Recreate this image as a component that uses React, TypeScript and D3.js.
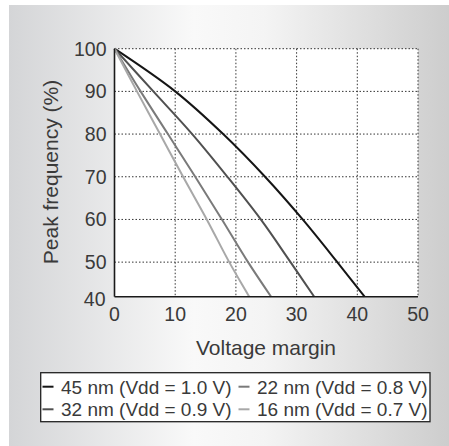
import React from "react";
import * as d3 from "d3";

const xTicks = [0, 10, 20, 30, 40, 50];
const yTicks = [100, 90, 80, 70, 60, 50];
const yBottomLabel = "40";
const xTitle = "Voltage margin";
const yTitle = "Peak frequency (%)";

const seriesNames = [
  "45 nm (Vdd = 1.0 V)",
  "32 nm (Vdd = 0.9 V)",
  "22 nm (Vdd = 0.8 V)",
  "16 nm (Vdd = 0.7 V)",
];
// [voltage margin, peak frequency]
const s45: [number, number][] = [[0, 100], [10, 90], [17.9, 80], [24.8, 70], [31.0, 60], [36.7, 50], [41.2, 41.9]];
const s32: [number, number][] = [[0, 100], [6.4, 90], [12.8, 80], [18.6, 70], [24.1, 60], [29.0, 50], [32.9, 41.9]];
const s22: [number, number][] = [[0, 100], [4.3, 90], [8.8, 80], [13.3, 70], [17.7, 60], [22.0, 50], [25.8, 41.9]];
const s16: [number, number][] = [[0, 100], [3.7, 90], [7.5, 80], [11.3, 70], [15.2, 60], [18.9, 50], [22.2, 41.9]];
const seriesData = [s45, s32, s22, s16];
const seriesColors = ["#151515", "#505050", "#7a7a7a", "#a8a8a8"];

export default function App() {
  const W = 449, H = 446;
  const x = d3.scaleLinear().domain([0, 50]).range([114.5, 418]);
  const y = d3.scaleLinear().domain([41.9, 100]).range([296.7, 48.7]);
  const line = d3
    .line<[number, number]>()
    .x((d) => x(d[0]))
    .y((d) => y(d[1]))
    .curve(d3.curveCatmullRom.alpha(0.5));
  const font = "'Liberation Sans', Arial, Helvetica, sans-serif";
  const [x0, x1] = x.range();
  const [yb, yt] = y.range();

  // legend: column 0 -> 45, 32 ; column 1 -> 22, 16
  const colX = [42.5, 238.5];
  const rowY = [386.7, 409.3];
  const textColor = "#3a3a3a";

  return (
    <svg
      width={W}
      height={H}
      style={{ position: "absolute", left: 0, top: 0 }}
      fontFamily={font}
    >
      <defs>
        <linearGradient id="bg" x1="0" x2="1" y1="0" y2="0">
          <stop offset="0%" stopColor="#d4d5d7" />
          <stop offset="42%" stopColor="#f9f9f9" />
          <stop offset="58%" stopColor="#f4f4f4" />
          <stop offset="100%" stopColor="#cdcdcd" />
        </linearGradient>
      </defs>
      <rect x={0} y={0} width={W} height={H} fill="#ffffff" />
      <rect x={9} y={5} width={W - 9} height={H - 5} fill="url(#bg)" />
      <rect x={x0} y={yt} width={x1 - x0} height={yb - yt} fill="#ffffff" />
      {/* grid */}
      {xTicks.filter((t) => t > 0).map((t) => (
        <line key={"gx" + t} x1={x(t)} x2={x(t)} y1={yt} y2={yb}
          stroke="#333" strokeWidth={1} strokeDasharray="1.5,2" />
      ))}
      {yTicks.map((t) => (
        <line key={"gy" + t} x1={x0} x2={x1} y1={y(t)} y2={y(t)}
          stroke="#333" strokeWidth={1} strokeDasharray="1.5,2" />
      ))}
      {/* series */}
      {seriesData.map((s, i) => (
        <path key={"s" + i} d={line(s) || ""} fill="none"
          stroke={seriesColors[i]} strokeWidth={2} />
      ))}
      {/* axes */}
      <line x1={x0} x2={x0} y1={yt} y2={yb} stroke="#1a1a1a" strokeWidth={1.6} />
      <line x1={x0} x2={x1} y1={yb} y2={yb} stroke="#1a1a1a" strokeWidth={1.6} />
      {/* tick labels */}
      {yTicks.map((t) => (
        <text key={"ty" + t} x={106.5} y={y(t)} dy="0.36em" textAnchor="end"
          fontSize={19.5} fill={textColor}>{t}</text>
      ))}
      <text x={105.5} y={yb + 2} dy="0.36em" textAnchor="end" fontSize={19.5} fill={textColor}>
        {yBottomLabel}
      </text>
      {xTicks.map((t) => (
        <text key={"tx" + t} x={x(t)} y={313.5} dy="0.36em" textAnchor="middle"
          fontSize={19.5} fill={textColor}>{t}</text>
      ))}
      <text x={266} y={347} dy="0.36em" textAnchor="middle" fontSize={21} fill={textColor}>
        {xTitle}
      </text>
      <text transform="translate(50,172) rotate(-90)" dy="0.36em" textAnchor="middle"
        fontSize={21} fill={textColor}>
        {yTitle}
      </text>
      {/* legend */}
      <rect x={40.7} y={372.7} width={389.3} height={49} fill="#ffffff"
        stroke="#222" strokeWidth={1.3} />
      {seriesNames.map((name, si) => {
        const cx = colX[Math.floor(si / 2)];
        const cy = rowY[si % 2];
        return (
          <g key={"lg" + si}>
            <line x1={cx} x2={cx + 11} y1={cy} y2={cy} stroke={seriesColors[si]} strokeWidth={2} />
            <text x={cx + 18.5} y={cy} dy="0.36em" fontSize={19} fill={textColor}>
              {name}
            </text>
          </g>
        );
      })}
    </svg>
  );
}
